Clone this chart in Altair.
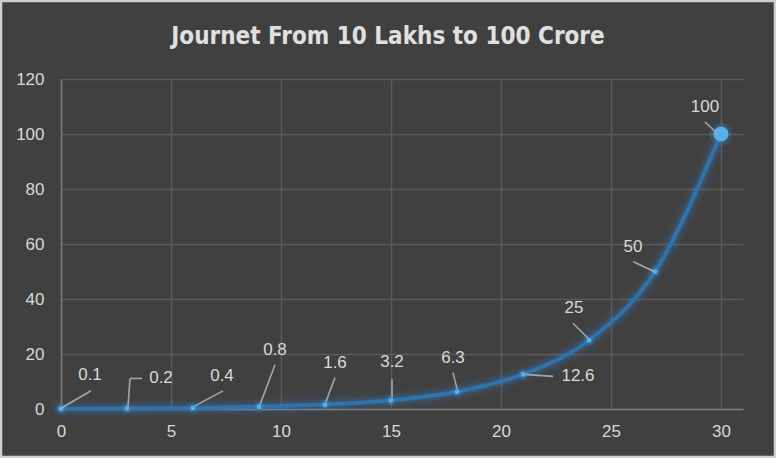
import altair as alt
import pandas as pd

# Years invested and corpus value (in crore)
years = [0, 3, 6, 9, 12, 15, 18, 21, 24, 27, 30]
values = [0.1, 0.2, 0.4, 0.8, 1.6, 3.2, 6.3, 12.6, 25, 50, 100]
labels = ["0.1", "0.2", "0.4", "0.8", "1.6", "3.2", "6.3", "12.6", "25", "50", "100"]

x_ticks = [0, 5, 10, 15, 20, 25, 30]
y_ticks = [0, 20, 40, 60, 80, 100, 120]

# Plot geometry (pixels) used to turn label offsets into data units
W, H = 682, 330
X_MAX, Y_MAX = 31, 120
PX_X = W / X_MAX
PX_Y = H / Y_MAX

# Label placement relative to each point, in pixels (dx right, dy down)
label_dx = [29, 34, 29, 16, 10, 1, -4, 55, -15, -22, -16]
label_dy = [-34, -30, -32, -57, -42, -38, -34, 2, -32, -25, -27]

# Leader-line segments: point index, start offset, end offset (pixels)
leader_idx = [0, 1, 1, 2, 3, 4, 5, 6, 7, 8, 9, 10]
leader_x0 = [1, 1, 3, 2, 1, 1, 1, 0, 1, -1, -1, -3]
leader_y0 = [-1, -2, -30, -2, -2, -3, -3, -3, 0, -2, 0, 0]
leader_x1 = [30, 3, 15, 30, 16, 10, 1, -4, 30, -16, -22, -16]
leader_y1 = [-18, -30, -30, -17, -42, -27, -21, -19, 2, -17, -10, -12]

BG = "#404040"
TXT = "#d9d9d9"
LINE = "#2e72ae"
GLOW = "#3a8fd8"
DOT = "#5aaee8"
FONT = "Liberation Sans, Arial, sans-serif"

df = pd.DataFrame({"year": years, "value": values})

lab = pd.DataFrame({
    "label": labels,
    "lx": [x + dx / PX_X for x, dx in zip(years, label_dx)],
    "ly": [v - dy / PX_Y for v, dy in zip(values, label_dy)],
})

lead = pd.DataFrame({
    "x0": [years[i] + a / PX_X for i, a in zip(leader_idx, leader_x0)],
    "y0": [values[i] - b / PX_Y for i, b in zip(leader_idx, leader_y0)],
    "x1": [years[i] + a / PX_X for i, a in zip(leader_idx, leader_x1)],
    "y1": [values[i] - b / PX_Y for i, b in zip(leader_idx, leader_y1)],
})

xs = alt.Scale(domain=[0, X_MAX], nice=False)
ys = alt.Scale(domain=[0, Y_MAX], nice=False)

x_enc = alt.X(
    "year:Q", scale=xs, title=None,
    axis=alt.Axis(values=x_ticks, grid=True, ticks=False, tickSize=0,
                  domainColor="#7a7a7a", domainWidth=1.5,
                  gridColor="#5a5a5a", gridWidth=1.5,
                  labelColor=TXT, labelFont=FONT, labelFontSize=17,
                  labelFlush=False, labelPadding=14),
)
y_enc = alt.Y(
    "value:Q", scale=ys, title=None,
    axis=alt.Axis(values=y_ticks, grid=True, ticks=False, tickSize=0,
                  domainColor="#7a7a7a", domainWidth=1.5,
                  gridColor="#5a5a5a", gridWidth=1.5,
                  labelColor=TXT, labelFont=FONT, labelFontSize=17,
                  labelFlush=False, labelPadding=17),
)

base = alt.Chart(df)

glow = [
    base.mark_line(interpolate="monotone", color=GLOW, strokeWidth=w,
                   opacity=o, strokeCap="round", strokeJoin="round")
    .encode(x=x_enc, y=y_enc)
    for w, o in [(20, 0.05), (14, 0.08), (9, 0.13)]
]

line = base.mark_line(interpolate="monotone", color=LINE, strokeWidth=4,
                      strokeCap="round").encode(x=x_enc, y=y_enc)

dot_glow = base.mark_circle(color=GLOW, opacity=0.2, size=130).encode(
    x="year:Q", y="value:Q")

dots = base.mark_point(filled=True, fill=DOT, stroke=LINE, strokeWidth=1,
                       size=36, opacity=1).encode(x="year:Q", y="value:Q")

big = alt.Chart(df.tail(1))
big_glow = big.mark_circle(color=GLOW, opacity=0.22, size=500).encode(
    x="year:Q", y="value:Q")
big_dot = big.mark_circle(color=DOT, opacity=1, size=230).encode(
    x="year:Q", y="value:Q")

leaders = alt.Chart(lead).mark_rule(color="#a6a6a6", strokeWidth=1.6).encode(
    x=alt.X("x0:Q", scale=xs), y=alt.Y("y0:Q", scale=ys),
    x2="x1:Q", y2="y1:Q")

texts = alt.Chart(lab).mark_text(
    font=FONT, fontSize=17, color=TXT, align="center", baseline="middle"
).encode(x=alt.X("lx:Q", scale=xs), y=alt.Y("ly:Q", scale=ys),
         text="label:N")

one = pd.DataFrame({"t": ["Journet From 10 Lakhs to 100 Crore"]})
title = alt.Chart(one).mark_text(
    font="Liberation Sans Narrow, DejaVu Sans Condensed, sans-serif",
    fontSize=24, fontWeight="bold", color="#e0e0e0",
    align="center", baseline="alphabetic"
).encode(x=alt.value(327), y=alt.value(-35), text="t:N")

frame = alt.Chart(one).mark_rect(fill=None, stroke="#d0d0d0", strokeWidth=2.5).encode(
    x=alt.value(-60), x2=alt.value(714), y=alt.value(-78), y2=alt.value(378))

chart = alt.layer(
    *glow, line, dot_glow, dots, big_glow, big_dot, leaders, texts, title, frame
).properties(
    width=W, height=H,
    background=BG,
    padding={"left": 61, "top": 79, "right": 33, "bottom": 49},
    autosize=alt.AutoSizeParams(type="none"),
).configure_view(stroke=None)

chart.save("out.html", embed_options={"renderer": "svg", "actions": False})
